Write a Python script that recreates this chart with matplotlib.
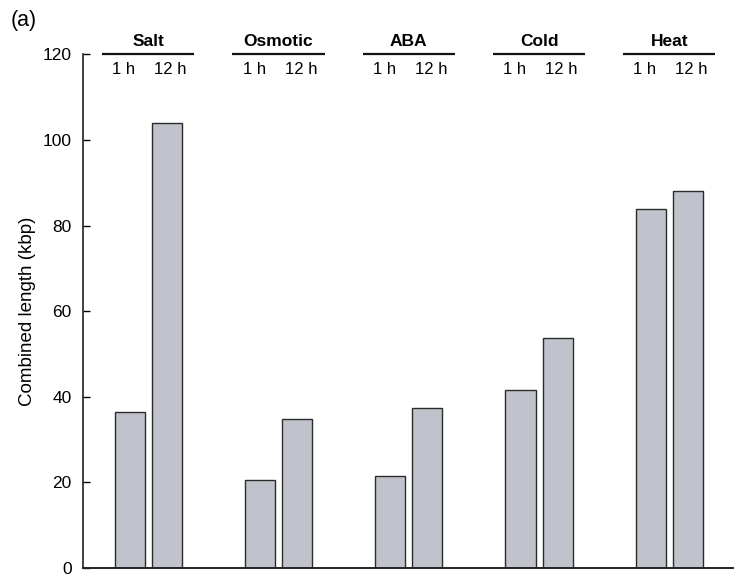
import numpy as np
import matplotlib
matplotlib.use("Agg")
import matplotlib.pyplot as plt

plt.rcParams['font.family'] = ['Liberation Sans', 'DejaVu Sans']

# data (kbp)
stresses = ['Salt', 'Osmotic', 'ABA', 'Cold', 'Heat']
times = ['1 h', '12 h']
len_1h = [36.4, 20.6, 21.6, 41.5, 83.9]
len_12h = [104.0, 34.9, 37.3, 53.7, 88.1]

bar_color = '#c0c3cb'
edge_color = '#2b2b2b'

fig = plt.figure(figsize=(7.38, 5.77), dpi=100)
ax = fig.add_axes([0.112, 0.0156, 0.881, 0.890])

x = np.arange(len(stresses))
off = 0.1423
w = 0.231
ax.bar(x - off, len_1h, width=w, color=bar_color, edgecolor=edge_color, linewidth=1.0)
ax.bar(x + off, len_12h, width=w, color=bar_color, edgecolor=edge_color, linewidth=1.0)

ax.set_xlim(-0.504, len(stresses) - 1 + 0.488)
ax.set_ylim(0, 120)
ax.set_yticks(np.arange(0, 121, 20))
ax.tick_params(axis='y', direction='in', length=5, width=1, pad=8, labelsize=12.5)
ax.set_xticks([])
ax.set_ylabel('Combined length (kbp)', fontsize=13.5, labelpad=5)

for s in ['top', 'right']:
    ax.spines[s].set_visible(False)
ax.spines['left'].set_linewidth(1.2)
ax.spines['bottom'].set_linewidth(1.4)
ax.spines['bottom'].set_color('#222222')
ax.spines['left'].set_color('#222222')

# group headers above the plot
trans = ax.get_xaxis_transform()
for i, name in enumerate(stresses):
    ax.text(i, 1.025, name, transform=trans, ha='center', va='center',
            fontsize=12.5, fontweight='bold')
    ax.plot([i - 0.354, i + 0.354], [1.0, 1.0], transform=trans,
            color='#111111', lw=1.6, clip_on=False, solid_capstyle='butt')
    ax.text(i - off - 0.045, 0.971, times[0], transform=trans, ha='center',
            va='center', fontsize=12)
    ax.text(i + off + 0.03, 0.971, times[1], transform=trans, ha='center',
            va='center', fontsize=12)

fig.text(0.014, 0.964, '(a)', fontsize=15.5, ha='left', va='center')

fig.savefig('out.png', dpi=100)
